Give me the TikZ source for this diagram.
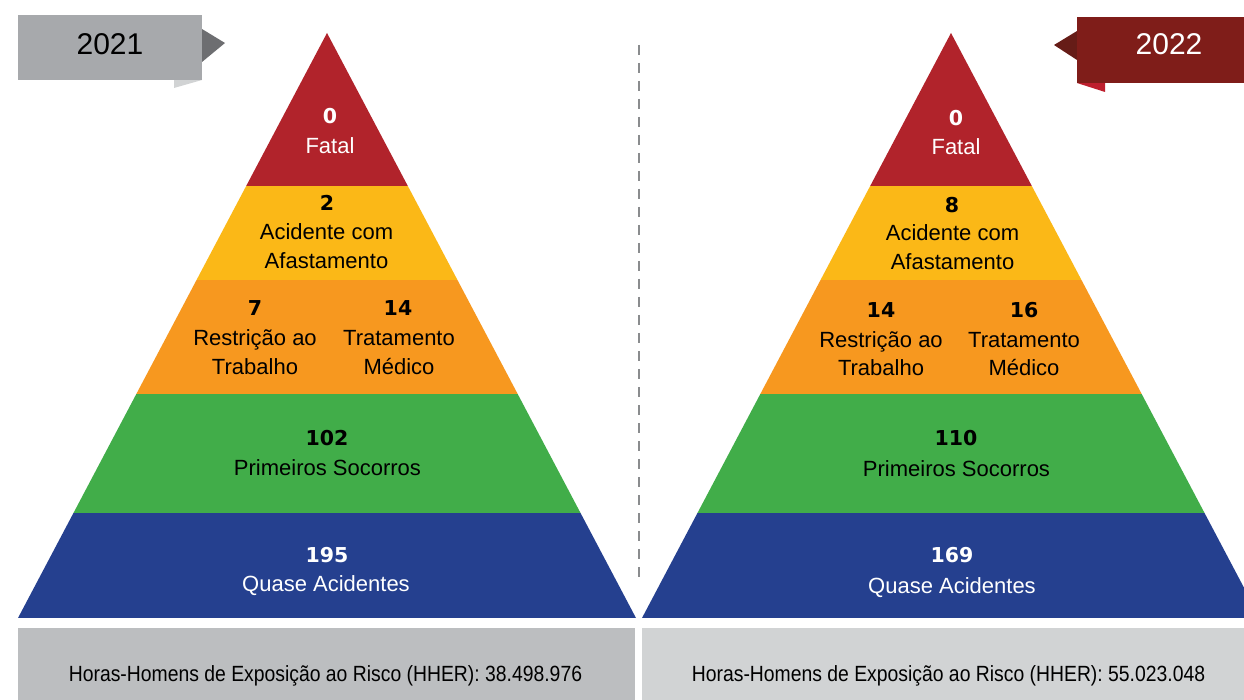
\documentclass[tikz,border=0pt]{standalone}
\usepackage{fontspec}
\setmainfont{Liberation Sans}
\newfontfamily\numfont{DejaVu Sans}
\newfontfamily\condfont[FakeStretch=0.88]{Liberation Sans}
\definecolor{cred}{HTML}{B1232B}
\definecolor{cyel}{HTML}{FBB817}
\definecolor{corg}{HTML}{F7981F}
\definecolor{cgrn}{HTML}{41AD49}
\definecolor{cblu}{HTML}{25408F}
\definecolor{gbox}{HTML}{A7A9AC}
\definecolor{gtri}{HTML}{6D6E71}
\definecolor{gfold}{HTML}{D1D3D4}
\definecolor{rbox}{HTML}{7F1D19}
\definecolor{rtri}{HTML}{661C17}
\definecolor{rfold}{HTML}{BE1E2D}
\definecolor{lbot}{HTML}{BCBEC0}
\definecolor{rbot}{HTML}{D1D3D4}
\definecolor{dashc}{HTML}{8A8C8E}
\newcommand{\nm}[1]{{\numfont\bfseries\fontsize{20.5}{29}\selectfont #1}}
\begin{document}
\begin{tikzpicture}[x=1pt,y=-1pt,
  txt/.style={font=\fontsize{22}{29}\selectfont, inner sep=0pt, anchor=base, text=black},
  wtxt/.style={txt, text=white},
  yr/.style={font=\fontsize{30}{36}\selectfont, inner sep=0pt, anchor=base},
  hh/.style={font=\condfont\fontsize{22}{26}\selectfont, inner sep=0pt, anchor=base, text=black},
  dashline/.style={draw=dashc, line width=2.5pt, dash pattern=on 10pt off 8pt}]
\useasboundingbox (0,0) rectangle (1244,700);
\fill[white] (0,0) rectangle (1244,700);

% left pyramid
\begin{scope}
\clip (327,33) -- (636,618) -- (18,618) -- cycle;
\fill[cred] (0,0) rectangle (700,186.5);
\fill[cyel] (0,186.5) rectangle (700,280.5);
\fill[corg] (0,280.5) rectangle (700,393.5);
\fill[cgrn] (0,393.5) rectangle (700,513);
\fill[cblu] (0,513) rectangle (700,618);
\end{scope}

% right pyramid
\begin{scope}
\clip (642,0) rectangle (1244,700);
\clip (951,33) -- (1260,618) -- (642,618) -- cycle;
\fill[cred] (640,0) rectangle (1244,186.5);
\fill[cyel] (640,186.5) rectangle (1244,280.5);
\fill[corg] (640,280.5) rectangle (1244,393.5);
\fill[cgrn] (640,393.5) rectangle (1244,513);
\fill[cblu] (640,513) rectangle (1244,618);
\end{scope}

% divider
\draw[dashline] (639,45) -- (639,578);

% year labels
\fill[gfold] (174,80) -- (202,80) -- (174,88) -- cycle;
\fill[gtri] (202,29) -- (225,43) -- (202,62) -- cycle;
\fill[gbox] (18,15) rectangle (202,80);
\node[yr, text=black] (y21) at (110,54.7) {2021};

\fill[rfold] (1077,83) -- (1105,83) -- (1105,92) -- cycle;
\fill[rtri] (1077,31) -- (1054,45) -- (1077,60) -- cycle;
\fill[rbox] (1077,17) rectangle (1244,83);
\node[yr, text=white] (y22) at (1169,54.7) {2022};

% bottom boxes
\fill[lbot] (18,628) rectangle (635,700);
\fill[rbot] (642,628) rectangle (1244,700);
\node[hh] (hl) at (325.5,681.7) {Horas-Homens de Exposição ao Risco (HHER): 38.498.976};
\node[hh] (hr) at (948.5,681.7) {Horas-Homens de Exposição ao Risco (HHER): 55.023.048};

% left texts
\node[wtxt] (l0n) at (330,123.5) {\nm{0}};
\node[wtxt] (l0t) at (330,154) {Fatal};
\node[txt] (l1n) at (327,210.5) {\nm{2}};
\node[txt] (l1a) at (326.5,240) {Acidente com};
\node[txt] (l1b) at (326.5,269) {Afastamento};
\node[txt] (l2n) at (255,315.5) {\nm{7}};
\node[txt] (l2a) at (255,345) {Restrição ao};
\node[txt] (l2b) at (255,374) {Trabalho};
\node[txt] (l3n) at (398,315.5) {\nm{14}};
\node[txt] (l3a) at (399,345) {Tratamento};
\node[txt] (l3b) at (399,374) {Médico};
\node[txt] (l4n) at (327,445.5) {\nm{102}};
\node[txt] (l4a) at (327.5,475) {Primeiros Socorros};
\node[wtxt] (l5n) at (327,562.5) {\nm{195}};
\node[wtxt] (l5a) at (326,591) {Quase Acidentes};

% right texts
\node[wtxt] (r0n) at (956,125.5) {\nm{0}};
\node[wtxt] (r0t) at (956,155) {Fatal};
\node[txt] (r1n) at (952,212.5) {\nm{8}};
\node[txt] (r1a) at (952.5,241) {Acidente com};
\node[txt] (r1b) at (952.5,270) {Afastamento};
\node[txt] (r2n) at (881,317.5) {\nm{14}};
\node[txt] (r2a) at (881,347) {Restrição ao};
\node[txt] (r2b) at (881,375) {Trabalho};
\node[txt] (r3n) at (1024,317.5) {\nm{16}};
\node[txt] (r3a) at (1024,347) {Tratamento};
\node[txt] (r3b) at (1024,375) {Médico};
\node[txt] (r4n) at (956,445.5) {\nm{110}};
\node[txt] (r4a) at (956.5,476) {Primeiros Socorros};
\node[wtxt] (r5n) at (952,562.5) {\nm{169}};
\node[wtxt] (r5a) at (952,593) {Quase Acidentes};
\end{tikzpicture}
\end{document}
